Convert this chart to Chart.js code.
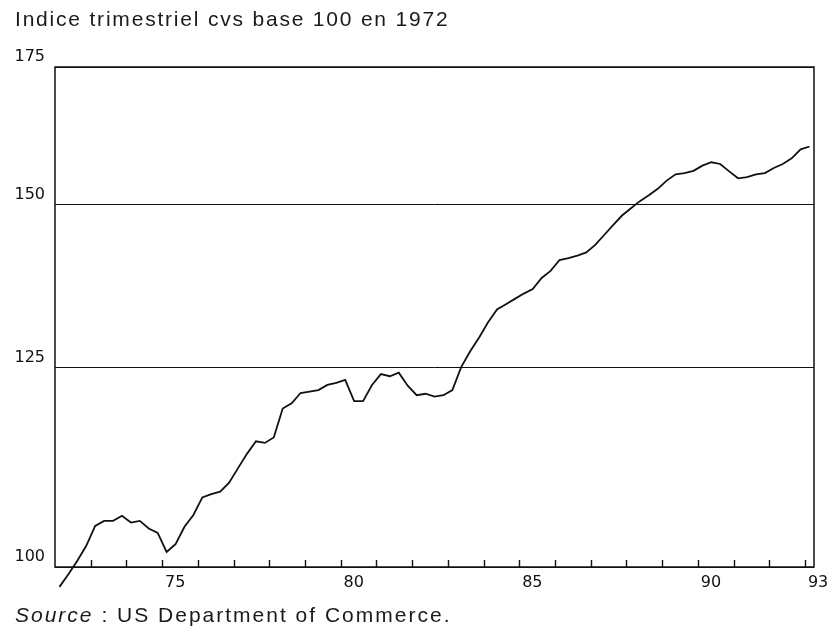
<!DOCTYPE html>
<html>
<head>
<meta charset="utf-8">
<script src="https://cdn.jsdelivr.net/npm/chart.js@4.4.0/dist/chart.umd.min.js"></script>
<style>
    body { margin: 0; background: #fff; }
    .wrap { position: relative; width: 838px; height: 630px; }
    .wrap canvas { position: absolute; left: 0; top: 0; }
    .title, .source {
        position: absolute;
        left: 15px;
        font-family: 'Liberation Sans', Arial, sans-serif;
        font-size: 21px;
        letter-spacing: 1.8px;
        color: #1a1a1a;
        white-space: nowrap;
    }
    .title { top: 7px; }
    .source { top: 603px; letter-spacing: 2px; }
    .source em { font-style: italic; }
</style>
</head>
<body>
<div class="wrap">
    <canvas id="chart" width="838" height="630"></canvas>
    <div class="title">Indice trimestriel cvs base 100 en 1972</div>
    <div class="source"><em>Source</em> : US Department of Commerce.</div>
</div>
<script>
    // quarterly index, 1972 Q1 .. 1993 Q1
    const startYear = 1972;
    const values = [
        97.8, 99.2, 100.7, 102.4,
        104.7, 105.3, 105.3, 105.9,
        105.1, 105.3, 104.4, 103.9,
        101.7, 102.6, 104.6, 106.0,
        108.1, 108.5, 108.8, 109.9,
        111.7, 113.5, 115.1, 114.9,
        115.6, 119.4, 120.1, 121.5,
        121.7, 121.9, 122.6, 122.9,
        123.3, 120.4, 120.4, 122.6,
        124.1, 123.8, 124.3, 122.5,
        121.2, 121.4, 121.0, 121.2,
        121.9, 125.1, 127.3, 129.3,
        131.5, 133.4, 134.2, 135.0,
        135.8, 136.5, 138.2, 139.3,
        141.0, 141.3, 141.7, 142.2,
        143.4, 145.0, 146.6, 148.2,
        149.4, 150.6, 151.6, 152.7,
        154.1, 155.2, 155.4, 155.8,
        156.7, 157.3, 157.0, 155.7,
        154.5, 154.7, 155.2, 155.4,
        156.3, 157.0, 158.0, 159.6,
        160.1,
    ];
    const xTickYears = [1975, 1980, 1985, 1990, 1993];
    const xTickLabels = ['75', '80', '85', '90', '93'];
    const yTicks = [100, 125, 150, 175];
    const yTickLabels = ['100', '125', '150', '175'];

    // each quarter plotted at its middle
    const points = values.map((v, i) => ({ x: startYear + i / 4 + 0.125, y: v }));

    const ink = '#111';
    const tickFont = { family: 'DejaVu Sans', size: 16 };

    const framePlugin = {
        id: 'frame',
        beforeDatasetsDraw(chart) {
            const { ctx, chartArea: a, scales: { x } } = chart;
            ctx.save();
            ctx.strokeStyle = ink;
            ctx.lineWidth = 1.5;
            ctx.strokeRect(a.left, a.top, a.right - a.left, a.bottom - a.top);
            // small year marks standing on the bottom edge
            ctx.lineWidth = 1.4;
            ctx.beginPath();
            for (let yr = startYear + 1; yr <= 1993; yr++) {
                const px = Math.round(x.getPixelForValue(yr)) + 0.5;
                ctx.moveTo(px, a.bottom);
                ctx.lineTo(px, a.bottom - 7);
            }
            ctx.stroke();
            ctx.restore();
        },
    };

    new Chart(document.getElementById('chart'), {
        type: 'line',
        data: {
            datasets: [{
                data: points,
                borderColor: ink,
                borderWidth: 1.8,
                pointRadius: 0,
                tension: 0,
                fill: false,
                clip: false,
            }],
        },
        options: {
            responsive: false,
            animation: false,
            events: [],
            layout: { padding: { left: 0, right: 24, top: 67, bottom: 33 } },
            plugins: {
                legend: { display: false },
                tooltip: { enabled: false },
            },
            scales: {
                x: {
                    type: 'linear',
                    min: startYear,
                    max: 1993.25,
                    afterBuildTicks: (scale) => {
                        scale.ticks = xTickYears.map((v) => ({ value: v }));
                    },
                    afterFit: (scale) => {
                        scale.height = 30;
                    },
                    grid: { display: false, drawTicks: false },
                    border: { display: false },
                    ticks: {
                        autoSkip: false,
                        maxRotation: 0,
                        padding: 6,
                        labelOffset: 13,
                        color: ink,
                        font: tickFont,
                        callback: (v, i) => xTickLabels[i],
                    },
                },
                y: {
                    type: 'logarithmic',
                    min: 100,
                    max: 175,
                    afterBuildTicks: (scale) => {
                        scale.ticks = yTicks.map((v) => ({ value: v }));
                    },
                    afterFit: (scale) => {
                        scale.width = 55;
                    },
                    grid: { color: ink, lineWidth: 1, drawTicks: false },
                    border: { display: false },
                    ticks: {
                        autoSkip: false,
                        padding: 10,
                        labelOffset: -10,
                        color: ink,
                        font: tickFont,
                        callback: (v, i) => yTickLabels[i],
                    },
                },
            },
        },
        plugins: [framePlugin],
    });
</script>
</body>
</html>
